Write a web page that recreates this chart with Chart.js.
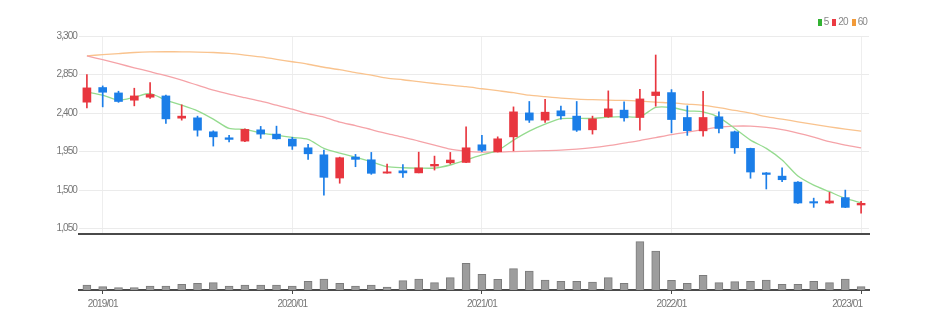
<!DOCTYPE html>
<html>
<head>
<meta charset="utf-8">
<script src="https://cdn.jsdelivr.net/npm/chart.js@4.4.1/dist/chart.umd.min.js"></script>
<style>
    html, body { margin: 0; padding: 0; background: #fff; }
    #wrap { position: relative; width: 928px; height: 326px; }
    #priceBox { position: absolute; left: 0; top: 0; width: 928px; height: 242px; }
    #volumeBox { position: absolute; left: 0; top: 236px; width: 928px; height: 90px; }
    #maLegend {
        position: absolute; top: 16px; right: 61px;
        font: 10px 'Liberation Sans', sans-serif; letter-spacing: -0.9px;
        color: #888; white-space: nowrap;
    }
    #maLegend span { margin-left: 4px; }
    #maLegend i { display: inline-block; width: 4px; height: 7px; margin-right: 2px; vertical-align: -1px; }
</style>
</head>
<body>
<div id="wrap">
    <div id="priceBox"><canvas id="priceChart"></canvas></div>
    <div id="volumeBox"><canvas id="volumeChart"></canvas></div>
    <div id="maLegend"></div>
</div>
<script>
// =========================
// DATA (monthly, 2018/12 - 2023/01)
// =========================
const months = [];
for (let y = 2018; y <= 2023; y++) {
    for (let m = 1; m <= 12; m++) {
        if ((y === 2018 && m < 12) || (y === 2023 && m > 1)) continue;
        months.push(`${y}/${String(m).padStart(2, '0')}`);
    }
}

const openPrices = [
    2527, 2698, 2635, 2550, 2585, 2600, 2340, 2344, 2181, 2111,
    2072, 2204, 2154, 2096, 1994, 1912, 1641, 1886, 1854, 1698,
    1725, 1701, 1781, 1819, 1823, 2029, 1948, 2122, 2402, 2317,
    2426, 2364, 2204, 2356, 2434, 2348, 2604, 2639, 2348, 2192,
    2356, 2181, 1987, 1701, 1663, 1593, 1365, 1349, 1412, 1326,
];
const closePrices = [
    2694, 2643, 2535, 2600, 2617, 2332, 2364, 2200, 2122, 2092,
    2209, 2154, 2099, 2014, 1924, 1649, 1878, 1859, 1696, 1713,
    1701, 1759, 1801, 1851, 1994, 1964, 2099, 2414, 2317, 2410,
    2367, 2200, 2332, 2449, 2344, 2565, 2646, 2324, 2194, 2348,
    2220, 1994, 1711, 1683, 1621, 1349, 1349, 1373, 1298, 1345,
];
const highPrices = [
    2850, 2717, 2655, 2690, 2757, 2610, 2496, 2364, 2192, 2139,
    2215, 2244, 2247, 2117, 2034, 1967, 1885, 1917, 1940, 1804,
    1798, 1943, 1897, 1940, 2239, 2139, 2122, 2472, 2535, 2559,
    2480, 2535, 2364, 2659, 2531, 2676, 3078, 2674, 2484, 2655,
    2414, 2190, 1990, 1705, 1761, 1600, 1406, 1473, 1500, 1368,
];
const lowPrices = [
    2461, 2472, 2525, 2484, 2570, 2279, 2317, 2130, 2014, 2064,
    2065, 2104, 2095, 1975, 1859, 1442, 1580, 1773, 1684, 1698,
    1649, 1701, 1734, 1804, 1820, 1948, 1945, 1959, 2290, 2290,
    2329, 2185, 2154, 2350, 2306, 2200, 2480, 2169, 2139, 2130,
    2169, 1929, 1638, 1513, 1598, 1345, 1298, 1345, 1295, 1229,
];

// moving averages
const ma5 = [
    2647, 2609, 2550, 2585, 2628, 2550, 2492, 2426, 2329, 2220,
    2209, 2169, 2142, 2115, 2092, 1987, 1932, 1886, 1831, 1773,
    1761, 1757, 1757, 1793, 1851, 1910, 1964, 2084, 2189, 2270,
    2335, 2337, 2337, 2352, 2358, 2356, 2465, 2465, 2426, 2414,
    2349, 2220, 2084, 1987, 1851, 1664, 1558, 1481, 1403, 1353,
];
const ma20 = [
    3067, 3023, 2976, 2929, 2883, 2836, 2784, 2725, 2667, 2620,
    2579, 2539, 2492, 2445, 2393, 2352, 2294, 2253, 2206, 2160,
    2119, 2072, 2026, 1979, 1956, 1944, 1944, 1950, 1956, 1961,
    1967, 1979, 1996, 2020, 2049, 2078, 2113, 2148, 2177, 2206,
    2236, 2247, 2247, 2232, 2206, 2166, 2119, 2066, 2026, 1994,
];
const ma60 = [
    3067, 3083, 3095, 3107, 3114, 3116, 3115, 3112, 3107, 3096,
    3077, 3055, 3028, 2999, 2970, 2935, 2906, 2871, 2842, 2807,
    2789, 2766, 2745, 2725, 2708, 2684, 2661, 2638, 2609, 2591,
    2574, 2562, 2556, 2550, 2547, 2539, 2527, 2518, 2504, 2490,
    2463, 2430, 2399, 2358, 2329, 2298, 2267, 2239, 2212, 2189,
];

// volume (thousand shares)
const volumes = [
    50, 33, 23, 23, 40, 40, 57, 67, 73, 40,
    50, 50, 50, 40, 87, 110, 67, 40, 50, 30,
    93, 110, 73, 123, 267, 157, 107, 213, 190, 100,
    87, 87, 80, 123, 67, 483, 390, 97, 67, 147,
    73, 83, 87, 100, 57, 57, 87, 73, 110, 33,
];

const priceTicks = [1050, 1500, 1950, 2400, 2850, 3300];

// =========================
// DESIGN
// =========================
const FONT = "'Liberation Sans', sans-serif";
const colors = {
    up: '#e8363f',
    down: '#1b7ee8',
    grid: '#ebebeb',
    text: '#777',
    axis: '#4a4a4a',
    volume: '#9d9d9d',
    volumeEdge: '#7c7c7c',
};
const maLines = [
    { label: '5', data: ma5, line: '#95db8f', key: '#33b233' },
    { label: '20', data: ma20, line: '#f5a3a8', key: '#ec3a42' },
    { label: '60', data: ma60, line: '#f9c38e', key: '#f29a38' },
];

const AXIS_WIDTH = 79;
const RIGHT_PAD = 59;
const isJanuary = (i) => months[i] && months[i].endsWith('/01');
const candleColor = (ctx) =>
    closePrices[ctx.dataIndex] >= openPrices[ctx.dataIndex] ? colors.up : colors.down;

// tighter tick text, the axis labels are set narrow
const narrowText = {
    id: 'narrowText',
    beforeDraw(chart) {
        chart.ctx.letterSpacing = '-0.9px';
    },
};

// year label; the last one sits left of its tick so it stays inside the plot edge
const yearLabel = (i) => {
    if (!isJanuary(i)) return '';
    return i === months.length - 1 ? months[i] + '\u2007'.repeat(6) : months[i];
};

// =========================
// PRICE CHART
// =========================
new Chart(document.getElementById('priceChart'), {
    type: 'bar',
    data: {
        labels: months,
        datasets: [
            {
                label: 'body',
                data: months.map((_, i) => [openPrices[i], closePrices[i]]),
                backgroundColor: candleColor,
                barThickness: 8,
                grouped: false,
                order: 1,
            },
            {
                label: 'wick',
                data: months.map((_, i) => [lowPrices[i], highPrices[i]]),
                backgroundColor: candleColor,
                barThickness: 1,
                grouped: false,
                order: 2,
            },
            ...maLines.map((ma) => ({
                type: 'line',
                label: ma.label,
                data: ma.data,
                borderColor: ma.line,
                borderWidth: 1.3,
                pointRadius: 0,
                tension: 0.25,
                order: 3,
            })),
        ],
    },
    plugins: [narrowText],
    options: {
        responsive: true,
        maintainAspectRatio: false,
        animation: false,
        layout: { padding: { top: 36, right: RIGHT_PAD, bottom: 1, left: 0 } },
        plugins: { legend: { display: false }, tooltip: { enabled: false } },
        scales: {
            x: {
                offset: true,
                ticks: { display: false },
                grid: {
                    offset: false,
                    drawTicks: false,
                    color: (ctx) => (isJanuary(ctx.index) ? '#eeeeee' : 'rgba(0,0,0,0)'),
                },
                border: { color: colors.axis, width: 2 },
                afterFit: (scale) => { scale.height = 1; },
            },
            y: {
                min: 987,
                max: 3300,
                afterBuildTicks: (scale) => {
                    scale.ticks = priceTicks.map((v) => ({ value: v }));
                },
                afterFit: (scale) => { scale.width = AXIS_WIDTH; },
                ticks: {
                    padding: 2,
                    color: colors.text,
                    font: { family: FONT, size: 10 },
                    callback: (v) => v.toLocaleString('en-US'),
                },
                grid: { color: colors.grid, drawTicks: false },
                border: { display: false },
            },
        },
    },
});

// =========================
// VOLUME CHART
// =========================
new Chart(document.getElementById('volumeChart'), {
    type: 'bar',
    data: {
        labels: months,
        datasets: [
            {
                label: 'volume',
                data: volumes,
                backgroundColor: colors.volume,
                borderColor: colors.volumeEdge,
                borderWidth: 1,
                barThickness: 8,
            },
        ],
    },
    plugins: [narrowText],
    options: {
        responsive: true,
        maintainAspectRatio: false,
        animation: false,
        layout: { padding: { top: 2, right: RIGHT_PAD, bottom: 0, left: 0 } },
        plugins: { legend: { display: false }, tooltip: { enabled: false } },
        scales: {
            x: {
                offset: true,
                afterFit: (scale) => { scale.height = 36; },
                ticks: {
                    autoSkip: false,
                    maxRotation: 0,
                    padding: 4,
                    color: colors.text,
                    font: { family: FONT, size: 10 },
                    callback: (v, i) => yearLabel(i),
                },
                grid: {
                    offset: false,
                    drawOnChartArea: false,
                    tickLength: 4,
                    color: (ctx) => (isJanuary(ctx.index) ? colors.axis : 'rgba(0,0,0,0)'),
                },
                border: { color: colors.axis, width: 2 },
            },
            y: {
                min: 0,
                max: 520,
                afterFit: (scale) => { scale.width = AXIS_WIDTH; },
                ticks: { display: false },
                grid: { display: false },
                border: { display: false },
            },
        },
    },
});

// =========================
// MA LEGEND
// =========================
document.getElementById('maLegend').innerHTML = maLines
    .map((ma) => `<span><i style="background:${ma.key}"></i>${ma.label}</span>`)
    .join('');
</script>
</body>
</html>
